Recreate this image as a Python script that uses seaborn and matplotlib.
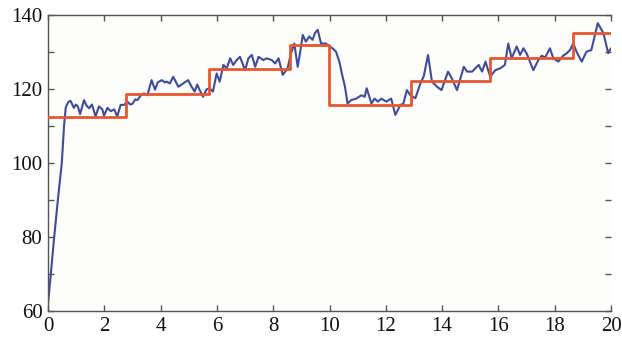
import matplotlib
matplotlib.use("Agg")
import matplotlib.pyplot as plt
import seaborn as sns
import pandas as pd

# Measured (blue) series
t_meas = [0.00, 0.10, 0.22, 0.35, 0.49, 0.57, 0.63, 0.72, 0.80, 0.92, 0.99, 1.06, 1.14, 1.28, 1.37,
          1.46, 1.56, 1.69, 1.81, 1.93, 1.99, 2.11, 2.23, 2.35, 2.46, 2.58, 2.70, 2.82, 2.92, 3.00,
          3.10, 3.18, 3.30, 3.41, 3.53, 3.68, 3.80, 3.90, 4.04, 4.15, 4.21, 4.33, 4.45, 4.55, 4.63,
          4.80, 4.98, 5.10, 5.21, 5.30, 5.39, 5.51, 5.63, 5.74, 5.86, 5.99, 6.10, 6.23, 6.35, 6.47,
          6.58, 6.70, 6.82, 7.00, 7.12, 7.24, 7.36, 7.48, 7.65, 7.77, 7.95, 8.07, 8.19, 8.34, 8.51,
          8.63, 8.75, 8.87, 8.95, 9.05, 9.16, 9.28, 9.40, 9.48, 9.58, 9.70, 9.87, 10.02, 10.11, 10.23,
          10.35, 10.45, 10.55, 10.64, 10.77, 10.95, 11.13, 11.25, 11.32, 11.49, 11.60, 11.72, 11.84, 12.02, 12.19,
          12.34, 12.52, 12.62, 12.75, 12.87, 13.05, 13.23, 13.35, 13.50, 13.64, 13.82, 13.98, 14.21, 14.35, 14.53,
          14.77, 14.89, 15.07, 15.18, 15.30, 15.42, 15.54, 15.71, 15.89, 16.07, 16.23, 16.35, 16.47, 16.65, 16.77,
          16.89, 17.01, 17.24, 17.42, 17.54, 17.66, 17.83, 17.95, 18.13, 18.30, 18.42, 18.54, 18.66, 18.78, 18.96,
          19.13, 19.30, 19.53, 19.73, 19.90, 20.00]
y_meas = [62.0, 70.0, 80.0, 90.0, 100.0, 110.0, 115.0, 116.5, 116.8, 114.9, 115.8, 115.3, 113.2, 117.0, 115.5,
          114.8, 115.8, 112.6, 115.3, 114.5, 112.8, 114.9, 114.0, 114.5, 112.6, 115.7, 115.7, 116.6, 115.8, 116.0,
          117.2, 117.0, 118.3, 118.8, 118.3, 122.4, 119.8, 121.8, 122.4, 121.8, 122.0, 121.5, 123.3, 121.8, 120.6,
          121.5, 122.4, 120.6, 119.3, 121.2, 119.7, 117.9, 119.9, 120.2, 119.3, 124.2, 122.0, 126.5, 125.6, 128.3,
          126.5, 127.8, 128.7, 125.1, 128.3, 129.2, 126.0, 128.7, 127.8, 128.3, 127.8, 126.9, 128.3, 123.8, 125.6,
          129.6, 132.3, 126.0, 129.6, 134.6, 132.8, 134.2, 133.3, 135.1, 136.0, 132.3, 132.3, 131.4, 131.0, 130.1,
          127.4, 123.8, 120.6, 116.1, 117.0, 117.4, 118.3, 117.9, 120.2, 116.1, 117.4, 116.6, 117.4, 116.6, 117.4,
          113.0, 115.7, 116.0, 119.7, 118.3, 117.5, 121.5, 123.5, 129.2, 122.0, 120.6, 119.7, 124.7, 122.8, 119.7,
          126.0, 124.7, 124.7, 125.6, 126.5, 124.7, 127.4, 123.3, 125.1, 125.6, 126.5, 132.3, 128.3, 131.5, 129.2,
          131.0, 129.5, 125.1, 127.8, 129.0, 128.5, 131.0, 128.3, 127.4, 129.0, 129.6, 130.5, 132.3, 130.0, 127.4,
          130.1, 130.5, 137.8, 135.1, 129.7, 131.0]

# Step (red) series: segment start times and levels
t_step = [0.0, 2.76, 5.73, 8.60, 9.99, 12.90, 15.71, 18.66, 20.0]
y_step = [112.4, 118.6, 125.5, 131.9, 115.7, 122.2, 128.5, 135.1, 135.1]

x_ticks = [0, 2, 4, 6, 8, 10, 12, 14, 16, 18, 20]
y_ticks = [60, 70, 80, 90, 100, 110, 120, 130, 140]
y_ticklabels = ["60", "", "80", "", "100", "", "120", "", "140"]

sns.set_theme(style="ticks")
plt.rcParams["font.family"] = ["Liberation Serif", "DejaVu Serif"]

fig = plt.figure(figsize=(6.22, 3.37), dpi=100)
ax = fig.add_axes([48 / 622, 1 - 311 / 337, (611 - 48) / 622, (311 - 15) / 337])
ax.set_facecolor("#fdfdfb")

df_meas = pd.DataFrame({"t": t_meas, "y": y_meas})
df_step = pd.DataFrame({"t": t_step, "y": y_step})

sns.lineplot(data=df_meas, x="t", y="y", ax=ax, color="#3f4b9e", linewidth=1.5,
             estimator=None, sort=False, zorder=2)
sns.lineplot(data=df_step, x="t", y="y", ax=ax, color="#e8562e", linewidth=2.0,
             estimator=None, sort=False, drawstyle="steps-post", zorder=3)

ax.set_xlim(0, 20)
ax.set_ylim(60, 140)
ax.set_xticks(x_ticks)
ax.set_xticklabels([str(v) for v in x_ticks])
ax.set_yticks(y_ticks)
ax.set_yticklabels(y_ticklabels)
ax.set_xlabel("")
ax.set_ylabel("")

for side in ["left", "top", "bottom"]:
    ax.spines[side].set_color("#555555")
    ax.spines[side].set_linewidth(1.0)
ax.spines["right"].set_visible(False)

ax.tick_params(direction="in", length=4, width=1, color="#555555",
               top=True, right=True, labelsize=15, labelcolor="#111111", pad=4)

fig.savefig("out.png", dpi=100, facecolor="white")
